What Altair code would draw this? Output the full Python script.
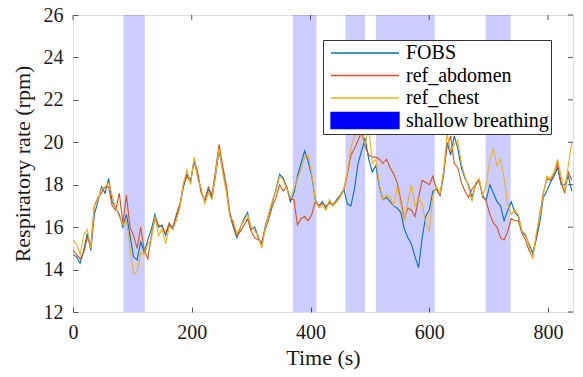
import altair as alt
import pandas as pd

# ---------------- data ----------------
time_s = [0, 6, 12, 18, 24, 30, 36, 42, 48, 54,
          60, 66, 72, 78, 84, 90, 96, 102, 108, 114,
          120, 126, 132, 138, 144, 150, 156, 162, 168, 174,
          180, 186, 192, 198, 204, 210, 216, 222, 228, 234,
          240, 246, 252, 258, 264, 270, 276, 282, 288, 294,
          300, 306, 312, 318, 324, 330, 336, 342, 348, 354,
          360, 366, 372, 378, 384, 390, 396, 402, 408, 414,
          420, 426, 432, 438, 444, 450, 456, 462, 468, 474,
          480, 486, 492, 498, 504, 510, 516, 522, 528, 534,
          540, 546, 552, 558, 564, 570, 576, 582, 588, 594,
          600, 606, 612, 618, 624, 630, 636, 642, 648, 654,
          660, 666, 672, 678, 684, 690, 696, 702, 708, 714,
          720, 726, 732, 738, 744, 750, 756, 762, 768, 774,
          780, 786, 792, 798, 804, 810, 816, 822, 828, 834,
          840]

fobs = [14.7, 14.6, 14.3, 14.9, 15.7, 14.9, 16.6, 17.2, 17.9, 17.6,
        18.3, 17.2, 16.9, 16.6, 16.0, 16.6, 15.6, 14.6, 14.45, 15.3,
        14.8, 15.4, 15.9, 16.6, 16.0, 16.1, 15.6, 16.1, 16.0, 16.5,
        17.0, 17.9, 18.5, 18.2, 19.1, 18.4, 17.7, 17.2, 17.8, 17.4,
        18.4, 19.6, 18.7, 17.8, 16.6, 16.0, 15.5, 16.0, 16.4, 16.7,
        15.9, 16.0, 15.5, 15.2, 16.1, 16.6, 17.2, 17.8, 18.5, 18.3,
        17.9, 17.2, 17.6, 18.4, 19.0, 19.6, 19.1, 18.4, 17.3, 17.0,
        17.2, 16.9, 17.2, 17.0, 17.3, 17.5, 17.8, 17.1, 17.0, 17.8,
        19.0, 19.6, 20.2, 19.2, 18.6, 18.9, 17.9, 17.3, 17.4, 17.2,
        17.0, 16.9, 16.7, 15.9, 15.5, 15.2, 14.6, 14.1, 15.5, 16.5,
        16.8, 17.7, 17.8, 17.5, 18.4, 20.0, 19.4, 20.3, 19.7, 18.8,
        18.3, 18.0, 17.4, 18.0, 18.2, 17.4, 17.3, 18.0, 17.6, 17.2,
        17.0, 16.3, 16.8, 17.2, 16.7, 16.5, 15.8, 15.6, 15.2, 14.8,
        15.4, 16.2, 17.4, 17.7, 18.1, 18.4, 18.8, 18.0, 18.0, 18.4,
        17.7]

ref_abdomen = [14.9, 14.7, 14.5, 14.8, 15.5, 15.2, 17.0, 17.4, 17.6, 17.9,
               17.9, 17.0, 16.8, 17.6, 16.2, 17.5, 16.0, 15.6, 15.0, 16.0,
               14.9, 14.5, 15.6, 16.4, 16.1, 16.0, 15.7, 16.2, 15.9, 16.6,
               17.1, 18.0, 18.4, 18.1, 19.2, 18.6, 17.6, 17.3, 17.9, 17.5,
               18.7, 19.9, 18.9, 18.0, 16.7, 16.1, 15.6, 15.8, 16.1, 16.4,
               15.8, 15.5, 15.4, 15.3, 15.9, 16.4, 17.0, 17.4, 18.0, 17.7,
               17.9, 17.3, 17.3, 16.1, 16.4, 16.5, 16.3, 16.6, 17.2, 17.0,
               17.1, 17.0, 17.1, 17.1, 17.2, 17.5, 17.7, 18.5, 19.4, 19.7,
               20.1, 20.5, 19.8, 19.4, 19.3, 19.3, 19.2, 19.0, 19.2, 18.8,
               18.5, 18.1, 17.3, 16.4, 16.9, 16.8, 16.5, 17.4, 18.2, 18.1,
               18.0, 18.4, 17.8, 17.5, 18.6, 19.8, 20.3, 19.0, 18.8, 18.1,
               17.7, 17.4, 17.8, 18.0, 18.2, 17.5, 17.2, 16.6, 16.2, 16.0,
               15.5, 15.4, 15.8, 16.4, 16.3, 16.3, 15.7, 15.4, 14.9, 14.6,
               15.5, 16.6, 17.6, 18.3, 18.2, 18.5, 19.0, 18.1, 17.6, 18.6,
               18.2]

ref_chest = [15.4, 15.2, 14.7, 15.6, 15.9, 15.0, 17.0, 17.3, 17.8, 17.9,
             18.1, 17.5, 16.9, 16.5, 16.1, 16.3, 15.0, 13.8, 13.9, 14.8,
             14.7, 15.2, 15.4, 16.5, 15.6, 15.9, 15.2, 16.0, 15.9, 16.3,
             16.9, 18.1, 18.7, 18.0, 19.3, 18.3, 17.8, 17.1, 17.6, 17.3,
             18.5, 19.7, 18.6, 17.7, 16.5, 16.3, 15.7, 16.0, 16.3, 16.6,
             16.0, 15.8, 15.6, 15.0, 16.0, 16.7, 17.3, 17.7, 18.4, 18.2,
             17.8, 17.4, 17.8, 18.3, 18.7, 19.3, 19.4, 18.5, 17.3, 16.9,
             17.0, 16.8, 17.3, 17.0, 17.2, 17.4, 17.8, 18.6, 19.7, 20.3,
             20.6, 20.3, 19.9, 20.7, 19.0, 19.2, 18.0, 17.3, 17.5, 17.4,
             17.0, 17.9, 17.1, 16.3, 17.2, 18.0, 17.0, 17.3, 17.1, 16.2,
             15.8, 17.5, 17.9, 17.6, 18.6, 20.4, 19.6, 19.9, 20.1, 19.0,
             18.4, 17.9, 17.2, 18.1, 18.3, 17.5, 18.0, 19.2, 19.7, 18.9,
             19.2, 18.3, 17.1, 16.6, 16.8, 16.6, 15.8, 15.7, 15.1, 14.5,
             15.7, 16.5, 17.5, 18.4, 18.3, 18.6, 19.2, 18.4, 17.7, 18.9,
             20.0]

band_start = [85, 370, 459, 510, 695]
band_end = [121, 410, 492, 609, 737]

series_names = ["FOBS", "ref_abdomen", "ref_chest", "shallow breathing"]
series_colors = ["#0072BD", "#D95319", "#EDB120", "#0000FF"]
legend_shapes = ["stroke", "stroke", "stroke", "M-1,-0.235H1V0.235H-1Z"]

x_ticks = [0, 200, 400, 600, 800]
y_ticks = [12, 14, 16, 18, 20, 22, 24, 26]

# ---------------- tables ----------------
wide = pd.DataFrame({"t": time_s, "FOBS": fobs,
                     "ref_abdomen": ref_abdomen, "ref_chest": ref_chest})
lines_df = wide.melt(id_vars="t", var_name="series", value_name="v")
bands_df = pd.DataFrame({"t": band_start, "t_end": band_end})
# legend-only points, placed outside the visible domain (clipped away)
legend_df = pd.DataFrame({"series": series_names,
                          "t": [-100] * len(series_names),
                          "v": [0] * len(series_names)})
xtick_df = pd.DataFrame({"t": x_ticks})
ytick_df = pd.DataFrame({"v": y_ticks})

W, H = 500, 297
FONT = "Liberation Serif"
AX = "#555555"
TXT = "#1a1a1a"

xs = alt.Scale(domain=[0, 842], nice=False, zero=False)
ys = alt.Scale(domain=[12, 26], nice=False, zero=False)
color_scale = alt.Scale(domain=series_names, range=series_colors)
shape_scale = alt.Scale(domain=series_names, range=legend_shapes)

x_axis = alt.Axis(values=x_ticks, title="Time (s)", orient="bottom",
                  offset=-5, tickSize=5, domain=False, grid=False,
                  tickColor=AX, labelPadding=10, labelFontSize=20,
                  titleFontSize=22, titlePadding=5, labelFont=FONT,
                  titleFont=FONT, labelColor=TXT, titleColor=TXT,
                  titleFontWeight="normal", format="d", labelFlush=False)
y_axis = alt.Axis(values=y_ticks, title="Respiratory rate (rpm)", orient="left",
                  offset=-5, tickSize=5, domain=False, grid=False,
                  tickColor=AX, labelPadding=10, labelFontSize=20,
                  titleFontSize=22, titlePadding=9, labelFont=FONT,
                  titleFont=FONT, labelColor=TXT, titleColor=TXT,
                  titleFontWeight="normal", format="d", labelFlush=False)

legend = alt.Legend(
    title=None, orient="none", legendX=250, legendY=25,
    symbolSize=4624, symbolStrokeWidth=1.3, clipHeight=22, rowPadding=0.5,
    padding=2, symbolOffset=5, labelOffset=6, symbolOpacity=1,
    labelFont=FONT, labelFontSize=20, labelColor="black",
    strokeColor="#333333", fillColor="white", cornerRadius=0,
    labelLimit=400, labelExpr="datum.label + '\u00a0'",
)

X = alt.X("t:Q", scale=xs, axis=x_axis)
Y = alt.Y("v:Q", scale=ys, axis=y_axis)

legend_layer = alt.Chart(legend_df).mark_point(filled=True, clip=True, opacity=1).encode(
    x=X, y=Y,
    color=alt.Color("series:N", scale=color_scale, legend=legend),
    stroke=alt.Stroke("series:N", scale=color_scale, legend=legend),
    shape=alt.Shape("series:N", scale=shape_scale, legend=legend),
)

bands = alt.Chart(bands_df).mark_rect(color="#0000FF", opacity=0.2).encode(
    x=X, x2="t_end:Q",
)

lines = alt.Chart(lines_df).mark_line(strokeWidth=1.1, clip=True).encode(
    x=X, y=Y,
    color=alt.Color("series:N", scale=color_scale, legend=None),
)

# inward ticks on the top and right edges of the box (MATLAB style)
top_ticks = alt.Chart(xtick_df).mark_rule(color=AX, strokeWidth=1).encode(
    x=X, y=alt.value(0), y2=alt.value(5),
)
right_ticks = alt.Chart(ytick_df).mark_rule(color=AX, strokeWidth=1).encode(
    y=Y, x=alt.value(W - 5), x2=alt.value(W),
)

chart = alt.layer(legend_layer, bands, lines, top_ticks, right_ticks).properties(
    width=W, height=H,
    autosize=alt.AutoSizeParams(type="none"),
    padding={"left": 73, "top": 15, "right": 10, "bottom": 65},
).configure_view(stroke=AX, strokeWidth=1).configure(background="white")

chart.save("out.html", embed_options={"renderer": "svg", "actions": False})
